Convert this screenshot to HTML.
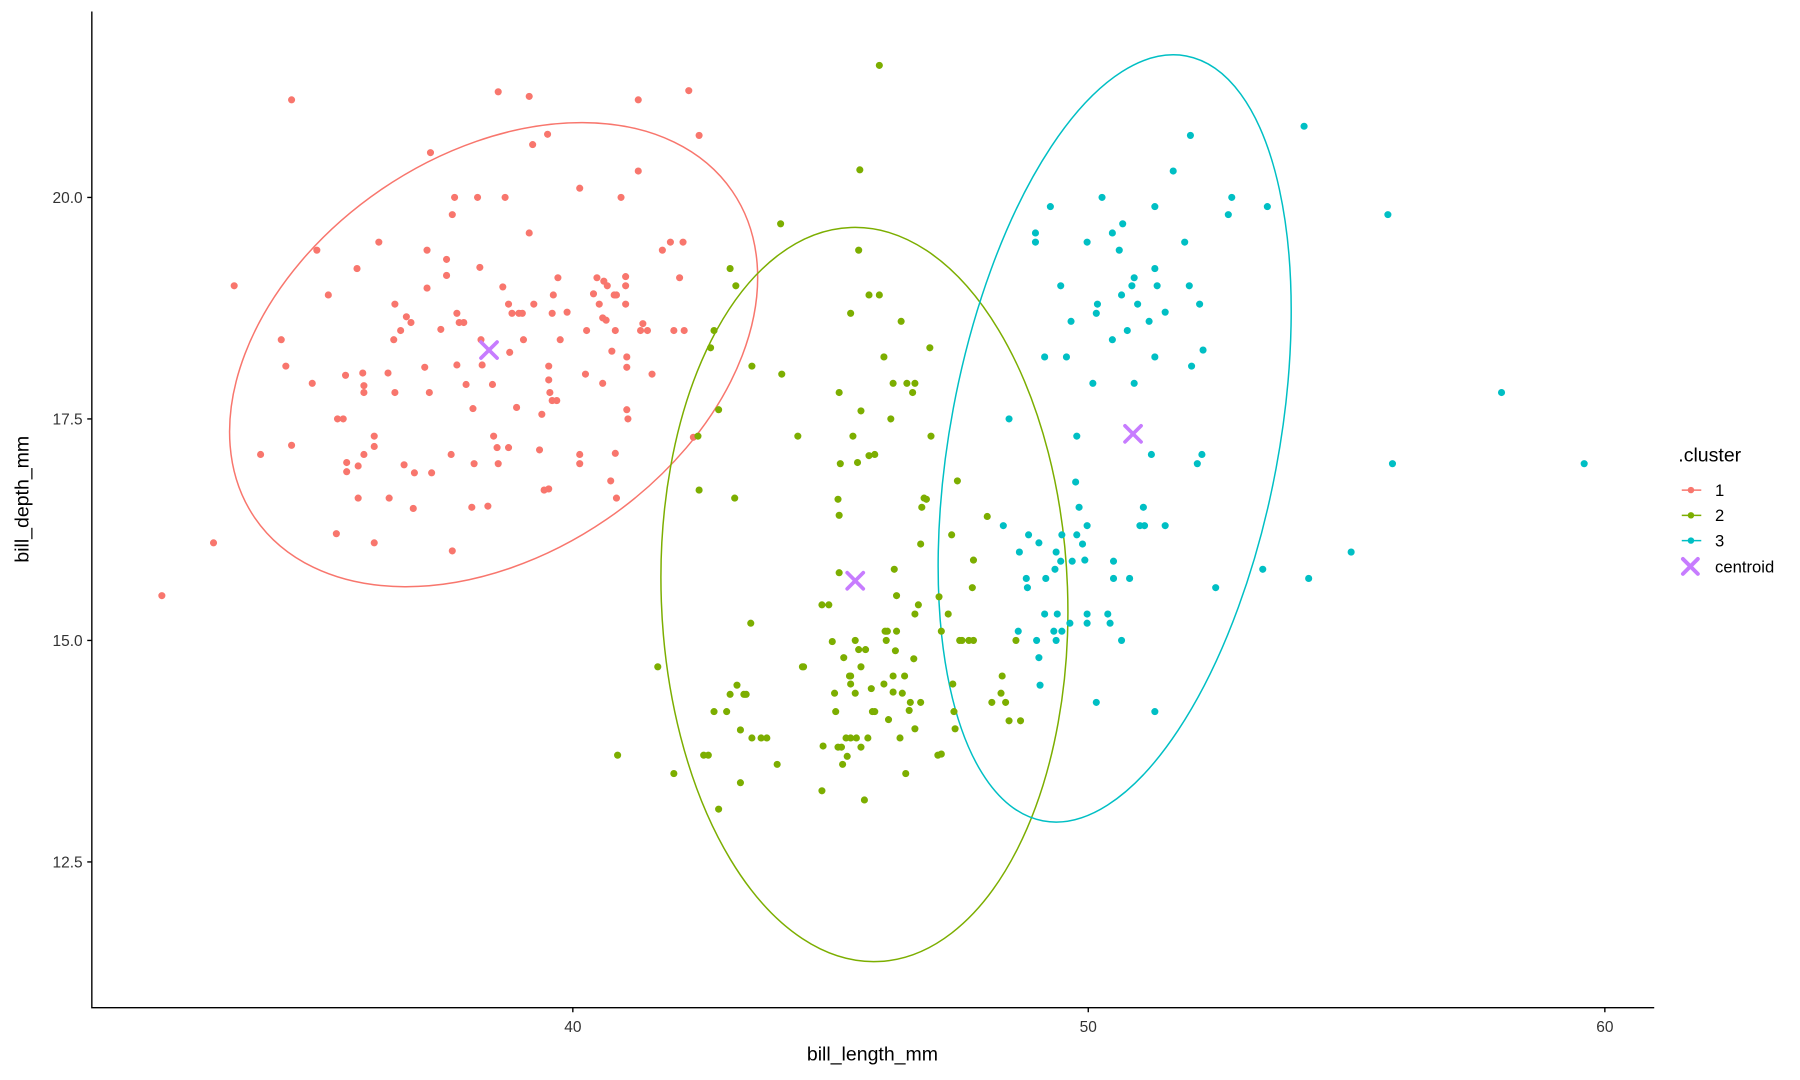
<!DOCTYPE html>
<html><head><meta charset="utf-8"><style>html,body{margin:0;padding:0;background:#fff}svg{display:block}</style></head>
<body>
<svg width="1800" height="1080" viewBox="0 0 1568 941" preserveAspectRatio="none" xmlns="http://www.w3.org/2000/svg" font-family="Liberation Sans, sans-serif">
<rect width="1568" height="941" fill="#fff"/>
<g fill="none" stroke-width="1.3">
<ellipse cx="430" cy="309" rx="252" ry="174" transform="rotate(-34.4 430 309)" stroke="#F8766D"/>
<ellipse cx="753" cy="518" rx="177" ry="320" transform="rotate(-2.1 753 518)" stroke="#7CAE00"/>
<ellipse cx="971" cy="382" rx="143" ry="339" transform="rotate(10.6 971 382)" stroke="#00BFC4"/>
</g>
<g stroke-linecap="round" stroke-width="6.2" fill="none">
<path stroke="#F8766D" d="M141 519h0M186 473h0M204 249h0M227 396h0M245 296h0M249 319h0M254 87h0M254 388h0M272 334h0M276 218h0M286 257h0M293 465h0M294 365h0M299 365h0M301 327h0M302 411h0M302 403h0M311 234h0M312 406h0M312 434h0M316 325h0M317 336h0M317 342h0M317 396h0M326 389h0M326 380h0M326 473h0M330 211h0M338 325h0M339 434h0M343 296h0M344 342h0M344 265h0M349 288h0M352 405h0M354 276h0M358 281h0M360 443h0M361 412h0M370 320h0M372 218h0M372 251h0M374 342h0M375 133h0M376 412h0M384 287h0M389 226h0M389 240h0M393 396h0M394 480h0M394 187h0M396 172h0M398 273h0M398 318h0M400 281h0M404 281h0M406 335h0M411 442h0M412 356h0M413 404h0M416 172h0M418 233h0M419 296h0M420 318h0M425 441h0M429 335h0M430 380h0M433 390h0M434 404h0M434 80h0M438 250h0M440 172h0M443 390h0M443 265h0M444 307h0M446 273h0M450 355h0M452 273h0M455 273h0M456 296h0M461 203h0M464 126h0M465 265h0M470 392h0M472 361h0M474 427h0M477 117h0M478 319h0M479 342h0M478 331h0M481 349h0M481 273h0M482 257h0M485 349h0M486 242h0M488 296h0M494 272h0M505 164h0M505 396h0M505 404h0M510 326h0M511 288h0M517 256h0M520 242h0M522 265h0M525 277h0M525 334h0M526 245h0M528 279h0M529 249h0M532 419h0M533 306h0M535 257h0M536 395h0M536 288h0M537 257h0M537 434h0M541 172h0M545 241h0M545 249h0M545 265h0M546 320h0M546 311h0M546 357h0M547 365h0M556 149h0M556 87h0M558 288h0M560 282h0M564 288h0M568 326h0M577 218h0M584 211h0M587 288h0M592 242h0M595 211h0M596 288h0M600 79h0M604 381h0M609 118h0M461 84h0M478 426h0"/>
<path stroke="#7CAE00" d="M766 57h0M749 148h0M748 218h0M680 195h0M636 234h0M641 249h0M622 288h0M619 303h0M655 319h0M681 326h0M626 357h0M608 380h0M695 380h0M609 427h0M640 434h0M654 543h0M573 581h0M587 674h0M613 658h0M617 658h0M626 705h0M622 620h0M633 620h0M636 605h0M642 597h0M648 605h0M650 605h0M645 636h0M655 643h0M663 643h0M668 643h0M645 682h0M677 666h0M699 581h0M716 689h0M717 650h0M730 651h0M733 651h0M738 659h0M737 643h0M746 643h0M756 643h0M722 527h0M730 435h0M731 449h0M731 499h0M735 573h0M741 589h0M741 596h0M745 604h0M745 558h0M748 566h0M743 380h0M747 403h0M754 566h0M757 397h0M762 396h0M750 581h0M741 273h0M731 342h0M750 358h0M757 257h0M766 257h0M770 311h0M776 365h0M778 334h0M785 280h0M790 334h0M795 342h0M797 334h0M779 496h0M781 519h0M781 550h0M771 550h0M772 558h0M778 589h0M778 603h0M786 604h0M788 589h0M793 612h0M797 535h0M800 527h0M796 574h0M802 612h0M805 434h0M802 474h0M803 442h0M807 435h0M811 380h0M810 303h0M817 658h0M818 520h0M820 550h0M826 535h0M834 419h0M830 596h0M831 620h0M832 635h0M836 558h0M838 558h0M844 558h0M848 558h0M847 512h0M848 488h0M860 450h0M864 612h0M872 604h0M873 589h0M876 612h0M879 628h0M889 628h0M885 558h0M728 620h0M753 697h0M774 627h0M797 635h0M784 643h0M792 619h0M762 620h0M759 600h0M741 643h0M734 666h0M740 589h0M727 604h0M725 559h0M700 581h0M716 527h0M773 550h0M750 651h0M780 567h0M789 674h0M820 657h0M829 466h0M732 404h0M760 620h0M770 596h0M538 658h0"/>
<path stroke="#00BFC4" d="M1136 110h0M1037 118h0M1022 149h0M1209 187h0M1070 187h0M1073 172h0M1104 180h0M1006 180h0M960 172h0M915 180h0M902 203h0M902 211h0M978 195h0M947 211h0M969 203h0M975 218h0M1032 211h0M1006 234h0M988 242h0M986 249h0M977 257h0M991 265h0M1008 249h0M1015 272h0M1036 249h0M1045 265h0M956 265h0M955 273h0M933 280h0M924 249h0M969 296h0M982 288h0M1001 280h0M910 311h0M929 311h0M952 334h0M1006 311h0M1038 319h0M988 334h0M879 365h0M938 380h0M1308 342h0M1003 396h0M1047 396h0M1043 404h0M1213 404h0M1380 404h0M996 442h0M937 420h0M997 458h0M1015 458h0M874 458h0M888 481h0M896 466h0M894 504h0M905 473h0M919 496h0M925 466h0M920 481h0M924 489h0M938 466h0M934 489h0M945 488h0M947 458h0M970 489h0M970 504h0M984 504h0M943 474h0M887 550h0M903 558h0M905 573h0M906 597h0M920 558h0M921 535h0M925 550h0M932 543h0M947 535h0M947 543h0M965 535h0M967 543h0M977 558h0M911 504h0M910 535h0M1059 512h0M1100 496h0M1140 504h0M1177 481h0M955 612h0M1006 620h0M940 442h0M993 458h0M895 512h0M918 550h0M1048 305h0"/>
</g>
<g stroke="#C77CFF" stroke-width="3.2" stroke-linecap="round">
<path d="M419 298l14 14M433 298l-14 14M738 499l14 14M752 499l-14 14M980 371l14 14M994 371l-14 14"/>
</g>
<g stroke="#000" stroke-width="1.2" fill="none">
<path d="M80 10V878H1441"/>
<path d="M76 172h4M76 365h4M76 558h4M76 751h4M499 878v4M948 878v4M1398 878v4"/>
</g>
<g font-size="13.5" fill="#333" text-anchor="end">
<text x="72" y="177">20.0</text><text x="72" y="370">17.5</text><text x="72" y="563">15.0</text><text x="72" y="756">12.5</text>
</g>
<g font-size="13.5" fill="#333" text-anchor="middle">
<text x="499" y="899">40</text><text x="948" y="899">50</text><text x="1398" y="899">60</text>
</g>
<text x="760" y="924" font-size="17" text-anchor="middle">bill_length_mm</text>
<text transform="translate(25 435) rotate(-90)" font-size="17" text-anchor="middle">bill_depth_mm</text>
<text x="1462" y="402" font-size="17">.cluster</text>
<g stroke-width="1.3">
<path d="M1465 427h17" stroke="#F8766D"/><circle cx="1473" cy="427" r="2.8" fill="#F8766D"/>
<path d="M1465 449h17" stroke="#7CAE00"/><circle cx="1473" cy="449" r="2.8" fill="#7CAE00"/>
<path d="M1465 471h17" stroke="#00BFC4"/><circle cx="1473" cy="471" r="2.8" fill="#00BFC4"/>
<path d="M1466 487l13 13M1479 487l-13 13" stroke="#C77CFF" stroke-width="3.4" stroke-linecap="round"/>
</g>
<g font-size="14.5">
<text x="1494" y="432">1</text><text x="1494" y="454">2</text><text x="1494" y="476">3</text><text x="1494" y="499">centroid</text>
</g>
</svg>
</body></html>
